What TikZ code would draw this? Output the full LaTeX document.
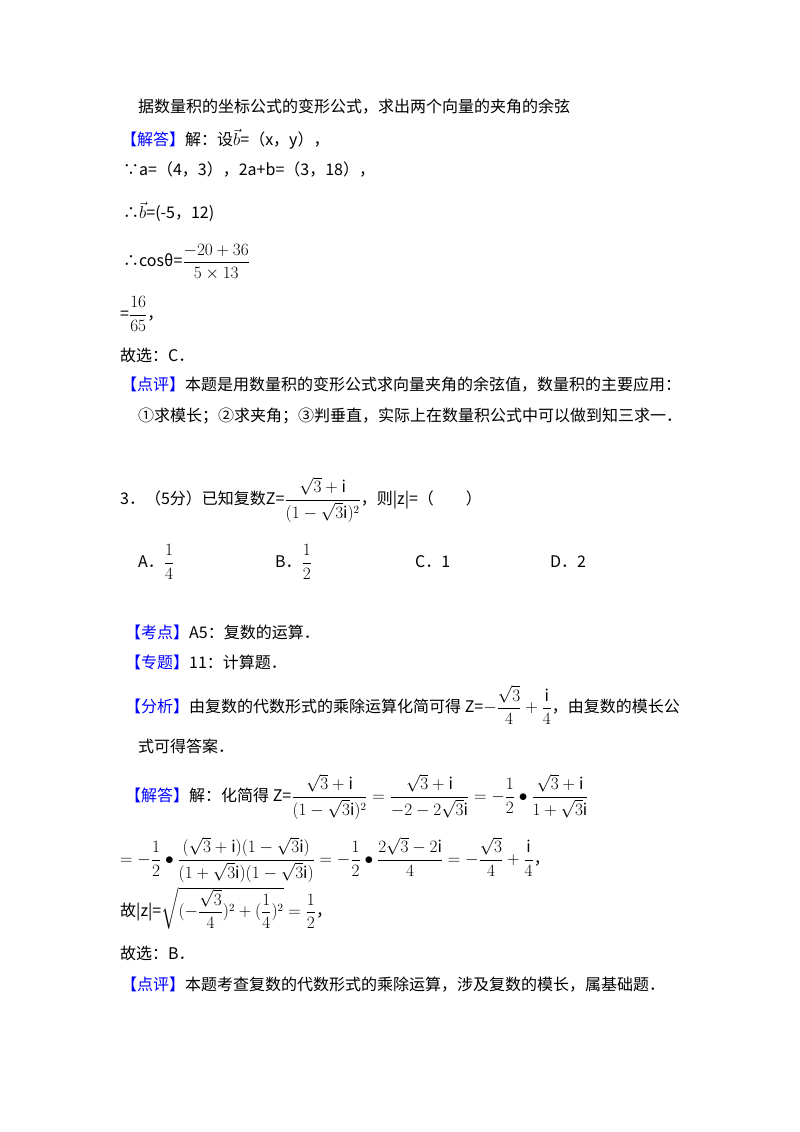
\documentclass[tikz,border=0pt]{standalone}
\usepackage{amsmath}
\usepackage{fontspec}
\setmainfont{Noto Sans CJK SC}
\begin{document}
\begin{tikzpicture}[x=1pt,y=-1pt,
  every node/.style={anchor=west,inner sep=0pt,font=\fontsize{16}{20}\selectfont},
  tag/.style={text=blue}]
\useasboundingbox (0,0) rectangle (800,1132);
\node (l1) at (138,107) {据数量积的坐标公式的变形公式，求出两个向量的夹角的余弦};
\node (l2) at (121,139) {\textcolor{blue}{【解答】}解：设$\vec{b}$=（x，y），};
\node (l3) at (123,170) {∵a=（4，3），2a+b=（3，18），};
\node (l4) at (123,212) {∴$\vec{b}$=(-5，12)};
\node (l5) at (123,262) {∴cosθ=$\dfrac{-20+36}{5\times13}$};
\node (l6) at (120,314) {=$\dfrac{16}{65}$，};
\node (l7) at (120,355) {故选：C．};
\node (l8) at (121,385) {\textcolor{blue}{【点评】}本题是用数量积的变形公式求向量夹角的余弦值，数量积的主要应用：};
\node (l9) at (138,416) {①求模长；②求夹角；③判垂直，实际上在数量积公式中可以做到知三求一．};
\node (q) at (120,500) {3．（5分）已知复数Z=$\dfrac{\sqrt{3}+\mathrm{i}}{(1-\sqrt{3}\mathrm{i})^2}$，则|z|=（\quad\quad）};
\node (oa) at (138,562) {A．$\dfrac{1}{4}$};
\node (ob) at (275,562) {B．$\dfrac{1}{2}$};
\node (oc) at (415,562) {C．1};
\node (od) at (550,562) {D．2};
\node (k1) at (125,632) {\textcolor{blue}{【考点】}A5：复数的运算．};
\node (k2) at (125,662) {\textcolor{blue}{【专题】}11：计算题．};
\node (k3) at (125,705) {\textcolor{blue}{【分析】}由复数的代数形式的乘除运算化简可得 Z=$-\dfrac{\sqrt{3}}{4}+\dfrac{\mathrm{i}}{4}$，由复数的模长公};
\node (k4) at (138,746) {式可得答案．};
\node (s1) at (125,797) {\textcolor{blue}{【解答】}解：化简得 Z=$\dfrac{\sqrt{3}+\mathrm{i}}{(1-\sqrt{3}\mathrm{i})^2}=\dfrac{\sqrt{3}+\mathrm{i}}{-2-2\sqrt{3}\mathrm{i}}=-\dfrac{1}{2}\bullet\dfrac{\sqrt{3}+\mathrm{i}}{1+\sqrt{3}\mathrm{i}}$};
\node (s2) at (120,860) {$=-\dfrac{1}{2}\bullet\dfrac{(\sqrt{3}+\mathrm{i})(1-\sqrt{3}\mathrm{i})}{(1+\sqrt{3}\mathrm{i})(1-\sqrt{3}\mathrm{i})}=-\dfrac{1}{2}\bullet\dfrac{2\sqrt{3}-2\mathrm{i}}{4}=-\dfrac{\sqrt{3}}{4}+\dfrac{\mathrm{i}}{4}$，};
\node (s3) at (120,908) {故|z|=$\sqrt{(-\dfrac{\sqrt{3}}{4})^2+(\dfrac{1}{4})^2}=\dfrac{1}{2}$，};
\node (s4) at (120,953) {故选：B．};
\node (s5) at (121,985) {\textcolor{blue}{【点评】}本题考查复数的代数形式的乘除运算，涉及复数的模长，属基础题．};
\end{tikzpicture}
\end{document}
